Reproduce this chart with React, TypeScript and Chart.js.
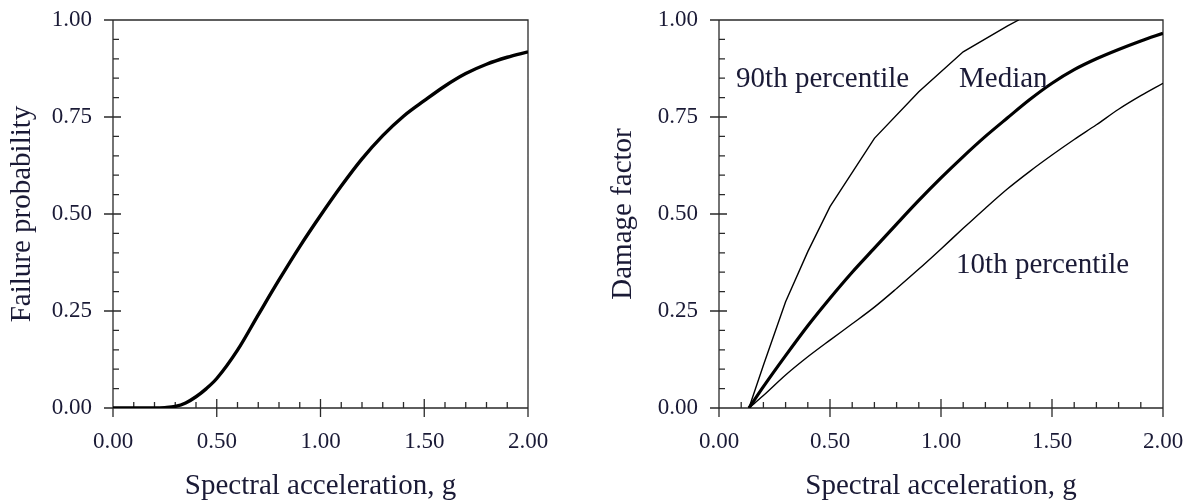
import React, { useEffect, useRef } from "react";
import { Chart, registerables } from "chart.js";

Chart.register(...registerables);

// ---------- data ----------
const leftAccel = [0, 0.1, 0.2, 0.25, 0.3, 0.35, 0.4, 0.45, 0.5, 0.6, 0.7, 0.8, 0.9, 1.0, 1.1, 1.2, 1.3, 1.4, 1.5, 1.6, 1.7, 1.8, 1.9, 2.0];
const failureProb = [0, 0, 0, 0.001, 0.004, 0.013, 0.029, 0.05, 0.076, 0.149, 0.24, 0.33, 0.416, 0.496, 0.572, 0.642, 0.702, 0.752, 0.792, 0.83, 0.862, 0.886, 0.904, 0.918];

const rightAccel = [0.135, 0.2, 0.3, 0.4, 0.5, 0.6, 0.7, 0.8, 0.9, 1.0, 1.1, 1.2, 1.3, 1.4, 1.5, 1.6, 1.7, 1.8, 1.9, 2.0];
const damageMedian = [0, 0.055, 0.135, 0.212, 0.283, 0.35, 0.412, 0.474, 0.535, 0.593, 0.648, 0.7, 0.748, 0.795, 0.837, 0.872, 0.9, 0.924, 0.946, 0.966];
const damage10th = [0, 0.032, 0.085, 0.132, 0.175, 0.217, 0.26, 0.308, 0.358, 0.41, 0.463, 0.515, 0.565, 0.61, 0.652, 0.692, 0.73, 0.77, 0.805, 0.837];

const p90Accel = [0.135, 0.2, 0.3, 0.4, 0.5, 0.7, 0.9, 1.1, 1.3, 1.35];
const damage90th = [0, 0.11, 0.274, 0.403, 0.519, 0.695, 0.815, 0.918, 0.985, 1.0];

const xTickLabels = ["0.00", "0.50", "1.00", "1.50", "2.00"];
const yTickLabels = ["0.00", "0.25", "0.50", "0.75", "1.00"];

const rightLabels = [
  { text: "90th percentile", x: 0.077, y: 0.827 },
  { text: "Median", x: 1.081, y: 0.827 },
  { text: "10th percentile", x: 1.068, y: 0.348 },
];

// ---------- styles ----------
const FONT = "'Liberation Serif', 'Times New Roman', serif";
const TEXT = "#1a1a36";
const AXIS = "#2a2a2a";

const framePlugin = {
  id: "frame",
  beforeDatasetsDraw(chart: any) {
    const { ctx, chartArea, scales } = chart;
    const { left, right, top, bottom } = chartArea;
    const x = scales.x;
    const y = scales.y;
    ctx.save();
    ctx.strokeStyle = AXIS;
    ctx.lineWidth = 1.3;
    ctx.beginPath();
    ctx.rect(left, top, right - left, bottom - top);
    for (let i = 0; i <= 20; i++) {
      const py = y.getPixelForValue(i * 0.05);
      const major = i % 5 === 0;
      ctx.moveTo(major ? left - 9 : left, py);
      ctx.lineTo(left + (major ? 8 : 6), py);
    }
    for (let i = 0; i <= 20; i++) {
      const px = x.getPixelForValue(i * 0.1);
      const major = i % 5 === 0;
      ctx.moveTo(px, major ? bottom + 9 : bottom);
      ctx.lineTo(px, bottom - (major ? 9 : 6));
    }
    ctx.stroke();
    ctx.restore();
  },
  afterDatasetsDraw(chart: any, _args: any, opts: any) {
    const labels = opts && opts.labels;
    if (!labels) return;
    const { ctx, scales } = chart;
    ctx.save();
    ctx.fillStyle = TEXT;
    ctx.font = `29px ${FONT}`;
    ctx.textAlign = "left";
    ctx.textBaseline = "alphabetic";
    for (const l of labels) {
      ctx.fillText(l.text, scales.x.getPixelForValue(l.x), scales.y.getPixelForValue(l.y));
    }
    ctx.restore();
  },
};

function makeOptions(yTitle: string, yAxisWidth: number, titlePad: number, rightPad: number, labels: any) {
  return {
    responsive: false,
    animation: false as const,
    layout: { padding: { left: 0, right: rightPad, top: 20, bottom: 0 } },
    plugins: {
      legend: { display: false },
      tooltip: { enabled: false },
      frame: { labels },
    },
    scales: {
      x: {
        type: "linear" as const,
        min: 0,
        max: 2,
        grid: { display: false, drawTicks: false, tickLength: 0 },
        border: { display: false },
        afterFit: (s: any) => {
          s.height = 96;
          s.paddingLeft = 0;
          s.paddingRight = 0;
        },
        afterBuildTicks: (s: any) => {
          s.ticks = xTickLabels.map((t) => ({ value: parseFloat(t) }));
        },
        ticks: {
          padding: 20,
          maxRotation: 0,
          autoSkip: false,
          color: TEXT,
          font: { family: FONT, size: 23 },
          callback: (v: any) => Number(v).toFixed(2),
        },
        title: {
          display: true,
          text: "Spectral acceleration, g",
          color: TEXT,
          font: { family: FONT, size: 29 },
          padding: { top: 0, bottom: 0 },
        },
      },
      y: {
        type: "linear" as const,
        min: 0,
        max: 1,
        grid: { display: false, drawTicks: false, tickLength: 0 },
        border: { display: false },
        afterFit: (s: any) => {
          s.width = yAxisWidth;
          s.paddingTop = 0;
          s.paddingBottom = 0;
        },
        afterBuildTicks: (s: any) => {
          s.ticks = yTickLabels.map((t) => ({ value: parseFloat(t) }));
        },
        ticks: {
          padding: 21,
          autoSkip: false,
          color: TEXT,
          font: { family: FONT, size: 23 },
          callback: (v: any) => Number(v).toFixed(2),
        },
        title: {
          display: true,
          text: yTitle,
          color: TEXT,
          font: { family: FONT, size: 29 },
          padding: { top: titlePad, bottom: 0 },
        },
      },
    },
  };
}

const pts = (xs: number[], ys: number[]) => xs.map((x, i) => ({ x, y: ys[i] }));

export default function App() {
  const leftRef = useRef<HTMLCanvasElement>(null);
  const rightRef = useRef<HTMLCanvasElement>(null);

  useEffect(() => {
    const left = new Chart(leftRef.current as HTMLCanvasElement, {
      type: "line",
      data: {
        datasets: [
          {
            data: pts(leftAccel, failureProb),
            borderColor: "#000",
            borderWidth: 3.4,
            pointRadius: 0,
            cubicInterpolationMode: "monotone",
          },
        ],
      },
      options: makeOptions("Failure probability", 113, 5, 66, null) as any,
      plugins: [framePlugin],
    });
    const right = new Chart(rightRef.current as HTMLCanvasElement, {
      type: "line",
      data: {
        datasets: [
          {
            data: pts(p90Accel, damage90th),
            borderColor: "#000",
            borderWidth: 1.4,
            pointRadius: 0,
            tension: 0,
          },
          {
            data: pts(rightAccel, damageMedian),
            borderColor: "#000",
            borderWidth: 3.2,
            pointRadius: 0,
            cubicInterpolationMode: "monotone",
          },
          {
            data: pts(rightAccel, damage10th),
            borderColor: "#000",
            borderWidth: 1.4,
            pointRadius: 0,
            cubicInterpolationMode: "monotone",
          },
        ],
      },
      options: makeOptions("Damage factor", 125, 12, 25, rightLabels) as any,
      plugins: [framePlugin],
    });
    return () => {
      left.destroy();
      right.destroy();
    };
  }, []);

  return (
    <div style={{ position: "absolute", left: 0, top: 0, width: 1188, height: 504, background: "#fff", display: "flex" }}>
      <canvas ref={leftRef} width={594} height={504} style={{ width: 594, height: 504, display: "block" }} />
      <canvas ref={rightRef} width={594} height={504} style={{ width: 594, height: 504, display: "block" }} />
    </div>
  );
}
